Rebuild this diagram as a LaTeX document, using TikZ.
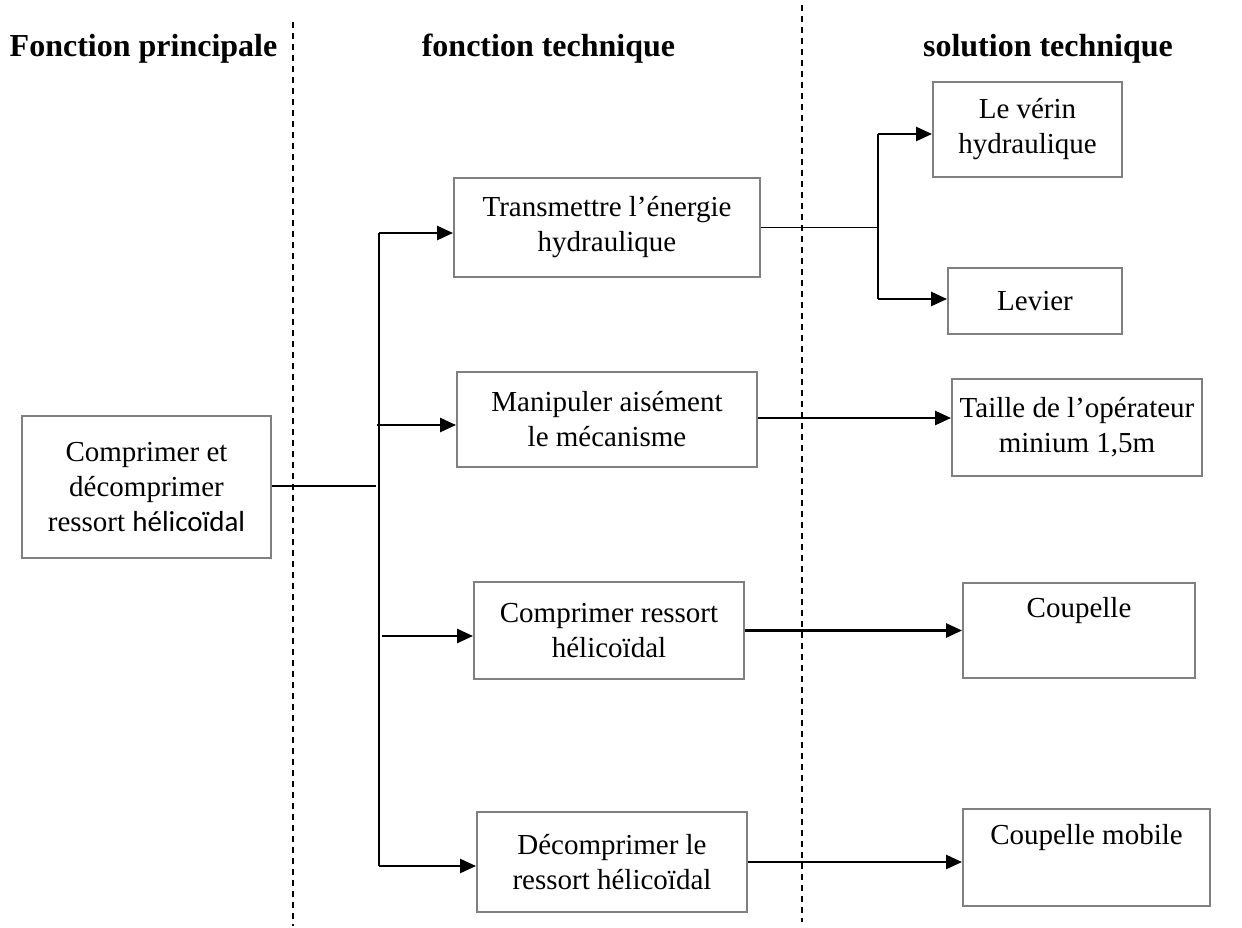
\documentclass[tikz,border=0pt]{standalone}
\usepackage{fontspec}
\setmainfont{Liberation Serif}
\newfontfamily\calfont{Carlito}
\usetikzlibrary{arrows.meta}
\definecolor{boxgray}{RGB}{128,128,128}
\begin{document}
\begin{tikzpicture}[x=1pt,y=-1pt,
  box/.style={draw=boxgray, line width=1.9pt, inner sep=0pt, align=center,
    font=\fontsize{29}{35}\selectfont},
  head/.style={anchor=base, inner sep=0pt, font=\fontsize{32}{38}\selectfont\bfseries},
  thinline/.style={line width=1.2pt},
  arr/.style={line width=2.5pt, -{Triangle[length=16pt,width=14pt]}},
  sepline/.style={line width=1.4pt, dash pattern=on 6pt off 5pt}]
\useasboundingbox (0,0) rectangle (1242,928);

% headings
\node[head] (h1) at (143.5,57) {Fonction principale};
\node[head] (h2) at (548.5,57) {fonction technique};
\node[head] (h3) at (1048,57) {solution technique};

% separators
\coordinate (s1a) at (293,22);  \coordinate (s1b) at (293,926);
\coordinate (s2a) at (802,5);   \coordinate (s2b) at (802,922);
\draw[sepline] (s1a) -- (s1b);
\draw[sepline] (s2a) -- (s2b);

% boxes
\node[box, minimum width=249pt, minimum height=142pt] (main) at (146.5,487)
  {Comprimer et\\décomprimer\\ressort {\calfont hélicoïdal}};
\node[box, minimum width=306pt, minimum height=99pt] (trans) at (607,227.5)
  {Transmettre l’énergie\\hydraulique};
\node[box, minimum width=300pt, minimum height=95pt] (man) at (607,419.5)
  {Manipuler aisément\\le mécanisme};
\node[box, minimum width=270pt, minimum height=97pt] (comp) at (609,630.5)
  {Comprimer ressort\\hélicoïdal};
\node[box, minimum width=270pt, minimum height=100pt] (dec) at (612,862)
  {Décomprimer le\\ressort hélicoïdal};
\node[box, minimum width=189pt, minimum height=95pt] (verin) at (1027.5,129.5)
  {Le vérin\\hydraulique};
\node[box, minimum width=174pt, minimum height=66pt] (levier) at (1035,301)
  {Levier};
\node[box, minimum width=250pt, minimum height=97pt] (taille) at (1077,427.5)
  {Taille de l’opérateur\\minium 1,5m};
\node[box, minimum width=232pt, minimum height=95pt] (coup) at (1079,630.5)
  {Coupelle\\\strut};
\node[box, minimum width=247pt, minimum height=97pt] (coupm) at (1086.5,857.5)
  {Coupelle mobile\\\strut};

% trunk
\coordinate (tTop) at (379,233);
\coordinate (tMid) at (376,486);
\coordinate (tBot) at (379,866);
\coordinate (b2) at (377,425);
\coordinate (b3) at (382,636);
\draw[thinline] (main.east |- tMid) -- (tMid);
\draw[thinline] (tTop) -- (tBot);
\draw[arr] (tTop) -- (tTop -| trans.west);
\draw[arr] (b2) -- (b2 -| man.west);
\draw[arr] (b3) -- (b3 -| comp.west);
\draw[arr] (tBot) -- (tBot -| dec.west);

% fork to solutions
\coordinate (fork) at (878,227.5);
\coordinate (fTop) at (878,134);
\coordinate (fBot) at (878,299);
\draw[thinline] (trans.east) -- (fork);
\draw[thinline] (fTop) -- (fBot);
\draw[arr] (fTop) -- (fTop -| verin.west);
\draw[arr] (fBot) -- (fBot -| levier.west);

% direct solutions
\draw[arr] ([yshift=1.5pt]man.east) -- ([yshift=1.5pt]man.east -| taille.west);
\draw[arr] (comp.east) -- (comp.east -| coup.west);
\draw[arr] (dec.east) -- (dec.east -| coupm.west);
\end{tikzpicture}
\end{document}
